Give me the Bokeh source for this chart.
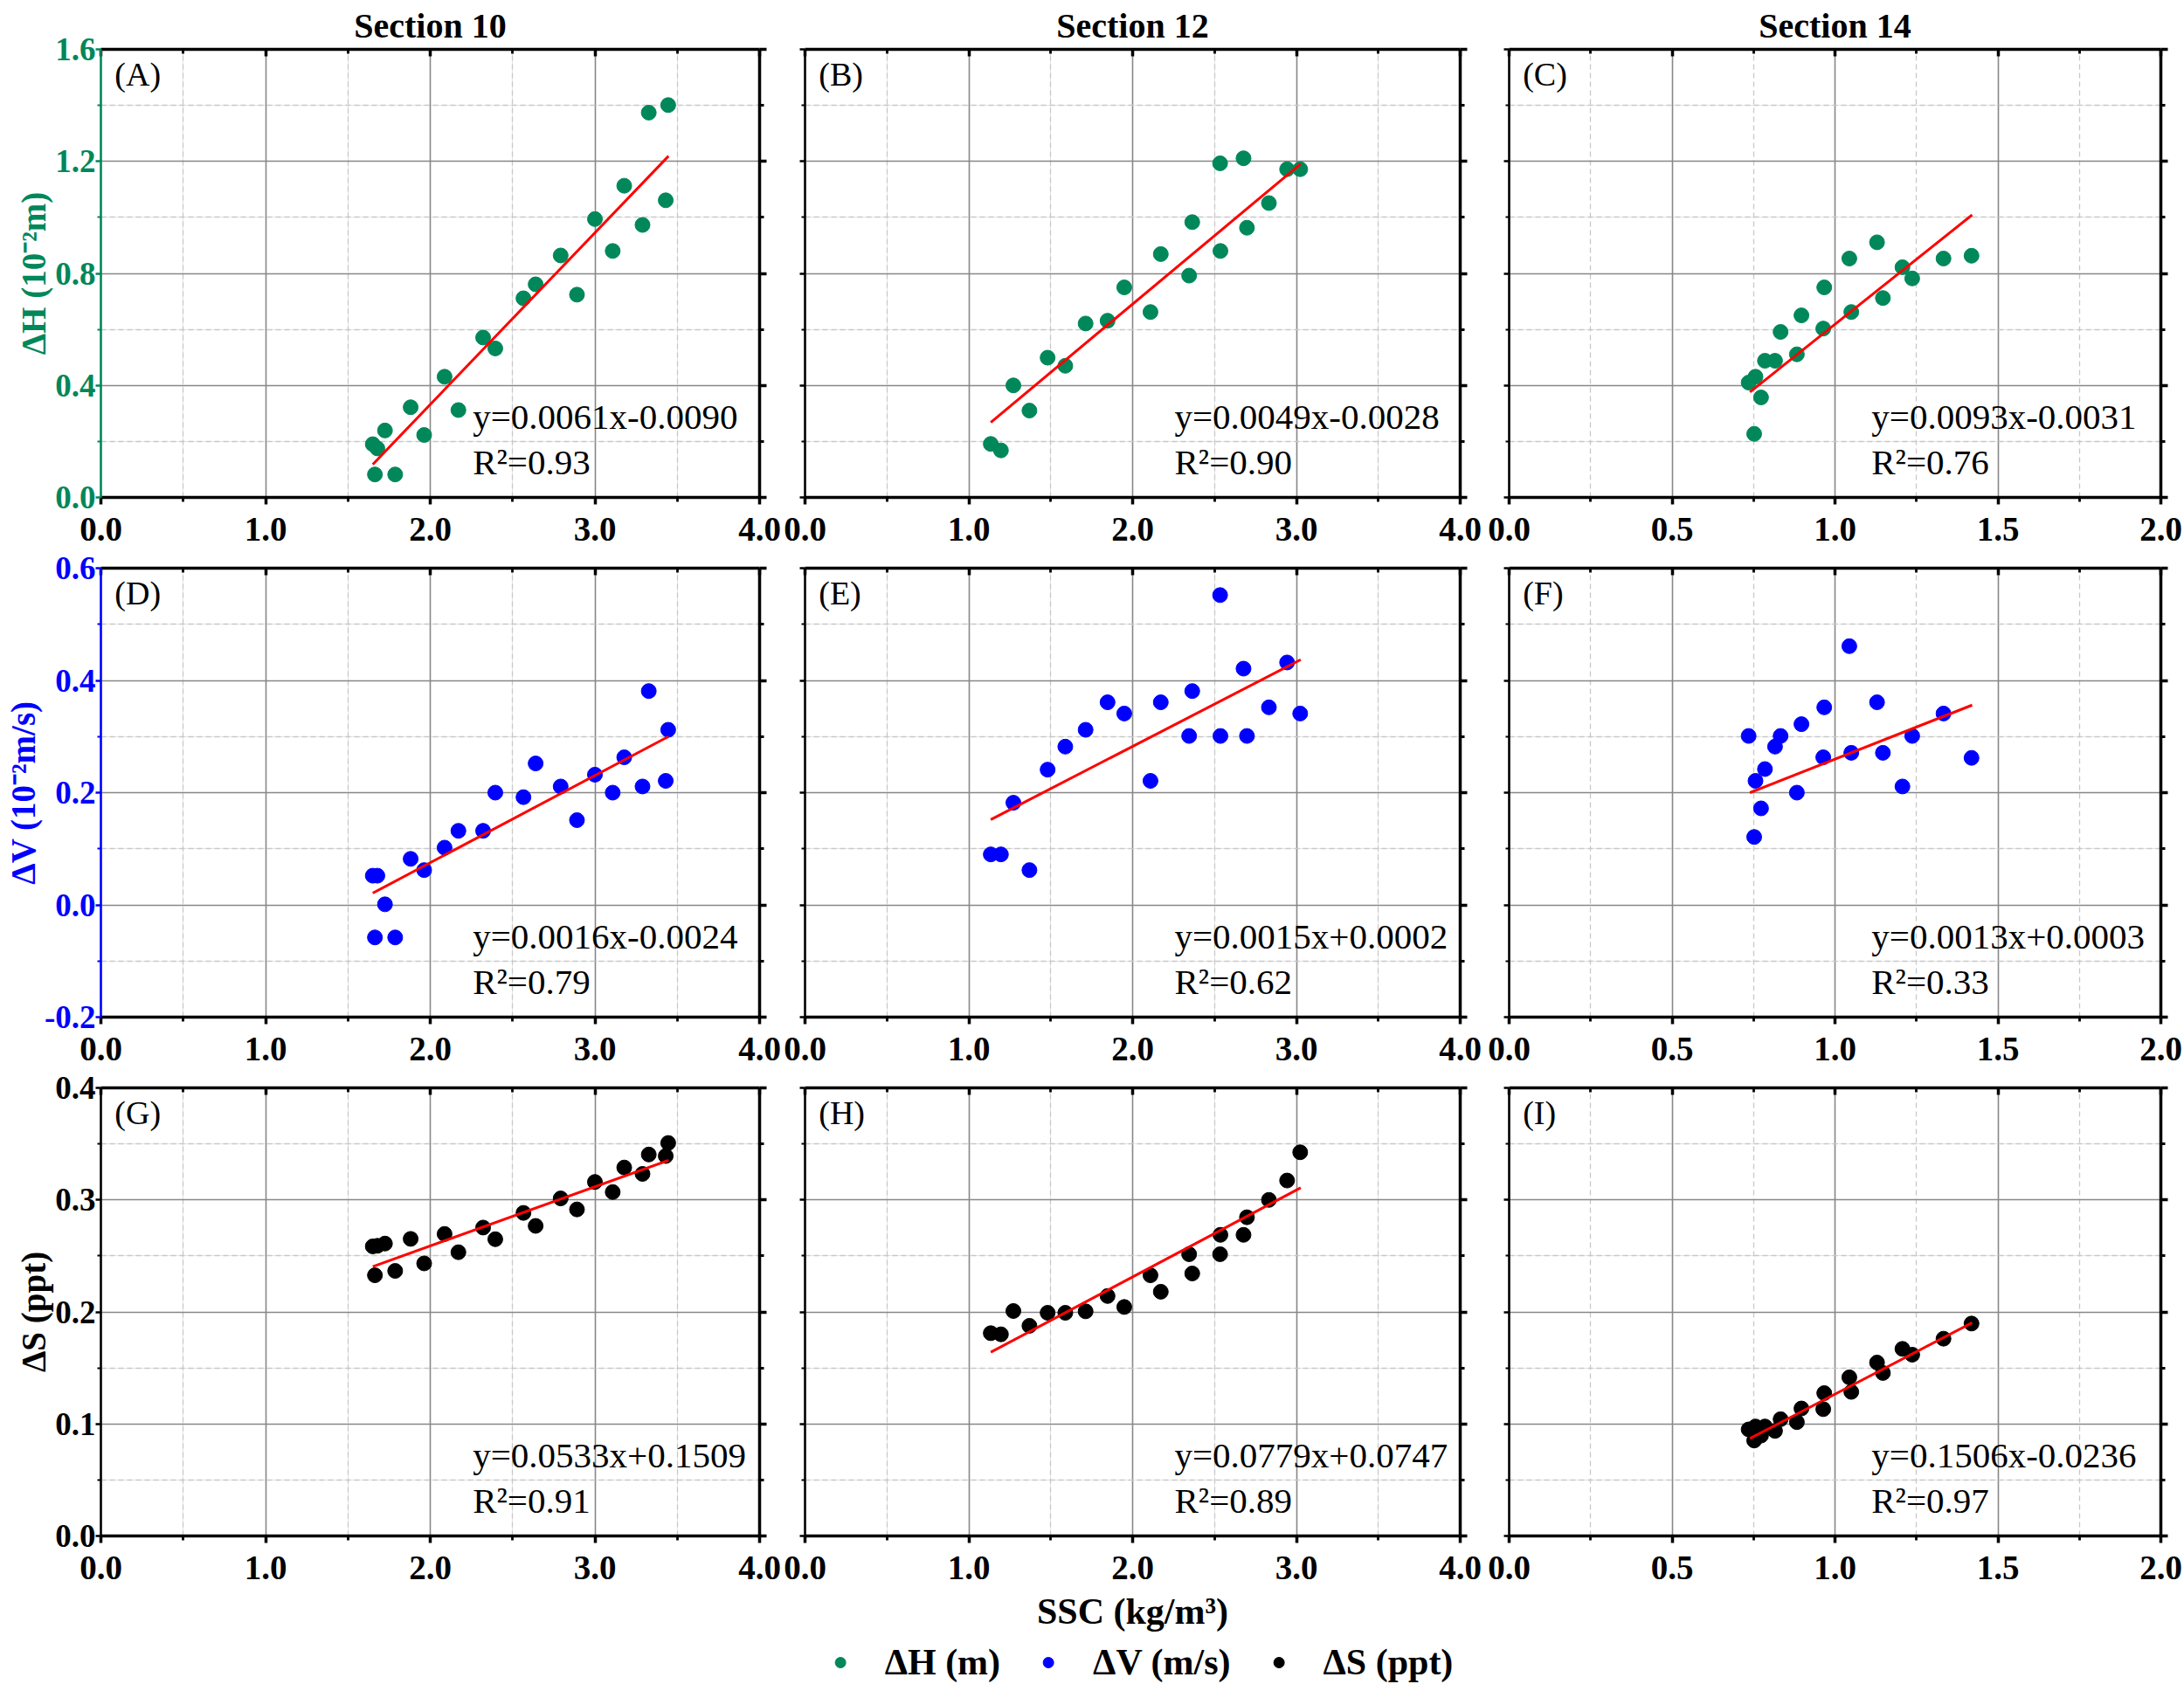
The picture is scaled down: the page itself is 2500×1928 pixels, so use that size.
from bokeh.plotting import figure
from bokeh.models import (LinearAxis, FixedTicker, NumeralTickFormatter, Label,
                          Legend, LegendItem, Range1d, Grid, Spacer)
from bokeh.layouts import column, row
from bokeh.embed import file_html
from bokeh.resources import INLINE

FONT = "Liberation Serif"
GREEN = "#00875a"
BLUE = "#0000ff"
BLACK = "#000000"
RED = "#ff0000"

sections = ["Section 10", "Section 12", "Section 14"]
panel_tags = [["(A)", "(B)", "(C)"], ["(D)", "(E)", "(F)"], ["(G)", "(H)", "(I)"]]
y_labels = ["\u0394H (10\u207b\u00b2m)", "\u0394V (10\u207b\u00b2m/s)", "\u0394S (ppt)"]
legend_labels = ["\u0394H (m)", "\u0394V (m/s)", "\u0394S (ppt)"]
x_label = "SSC (kg/m\u00b3)"

# SSC (x) values, shared by the three rows of each section
ssc_10 = [1.651, 1.679, 1.725, 1.664, 1.787, 1.881, 1.963, 2.087, 2.171, 2.321, 2.395,
          2.566, 2.640, 2.792, 2.891, 3.000, 3.108, 3.178, 3.289, 3.327, 3.430, 3.445]
ssc_12 = [1.134, 1.196, 1.272, 1.370, 1.481, 1.589, 1.713, 1.847, 1.949, 2.109,
          2.172, 2.345, 2.364, 2.536, 2.534, 2.677, 2.698, 2.832, 2.943, 3.023]
ssc_14 = [0.735, 0.756, 0.773, 0.752, 0.785, 0.816, 0.833, 0.883, 0.897, 0.964,
          0.967, 1.050, 1.044, 1.147, 1.129, 1.207, 1.237, 1.333, 1.419]

# delta H (10^-2 m)
dh_10 = [0.190, 0.175, 0.239, 0.082, 0.082, 0.322, 0.223, 0.431, 0.312, 0.571, 0.532,
         0.711, 0.761, 0.864, 0.724, 0.994, 0.880, 1.113, 0.973, 1.374, 1.061, 1.401]
dh_12 = [0.191, 0.168, 0.400, 0.310, 0.499, 0.470, 0.621, 0.631, 0.750, 0.662,
         0.869, 0.792, 0.983, 0.880, 1.193, 1.211, 0.963, 1.051, 1.172, 1.172]
dh_14 = [0.410, 0.431, 0.357, 0.227, 0.488, 0.488, 0.591, 0.511, 0.650, 0.603,
         0.750, 0.662, 0.853, 0.712, 0.911, 0.822, 0.782, 0.853, 0.863]

# delta V (10^-2 m/s)
dv_10 = [0.052, 0.052, 0.001, -0.058, -0.058, 0.082, 0.062, 0.102, 0.132, 0.132, 0.200,
         0.192, 0.252, 0.211, 0.151, 0.232, 0.200, 0.263, 0.211, 0.381, 0.221, 0.312]
dv_12 = [0.090, 0.090, 0.182, 0.062, 0.241, 0.282, 0.312, 0.361, 0.341, 0.221,
         0.361, 0.301, 0.381, 0.301, 0.552, 0.421, 0.301, 0.352, 0.432, 0.341]
dv_14 = [0.301, 0.221, 0.172, 0.121, 0.242, 0.282, 0.301, 0.200, 0.322, 0.263,
         0.352, 0.271, 0.461, 0.271, 0.361, 0.211, 0.301, 0.341, 0.262]

# delta S (ppt)
ds_10 = [0.2585, 0.2590, 0.2610, 0.2327, 0.2366, 0.2652, 0.2433, 0.2696, 0.2533, 0.2753, 0.2649,
         0.2884, 0.2768, 0.3013, 0.2915, 0.3160, 0.3070, 0.3289, 0.3232, 0.3405, 0.3392, 0.3508]
ds_12 = [0.1810, 0.1800, 0.2008, 0.1876, 0.1992, 0.1992, 0.2005, 0.2142, 0.2044, 0.2327,
         0.2180, 0.2515, 0.2343, 0.2688, 0.2515, 0.2688, 0.2845, 0.3000, 0.3173, 0.3425]
ds_14 = [0.0951, 0.0977, 0.0896, 0.0852, 0.0977, 0.0938, 0.1042, 0.1016, 0.1138, 0.1132,
         0.1275, 0.1286, 0.1416, 0.1455, 0.1548, 0.1670, 0.1618, 0.1761, 0.1896]

# regression line end points
fit_x_10 = [1.651, 3.447]
fit_x_12 = [1.134, 3.026]
fit_x_14 = [0.739, 1.421]
fit_dh_10 = [0.118, 1.219]
fit_dh_12 = [0.268, 1.191]
fit_dh_14 = [0.376, 1.009]
fit_dv_10 = [0.021, 0.300]
fit_dv_12 = [0.152, 0.437]
fit_dv_14 = [0.200, 0.356]
fit_ds_10 = [0.2405, 0.3353]
fit_ds_12 = [0.1640, 0.3108]
fit_ds_14 = [0.0870, 0.1904]

equations = [["y=0.0061x-0.0090", "y=0.0049x-0.0028", "y=0.0093x-0.0031"],
             ["y=0.0016x-0.0024", "y=0.0015x+0.0002", "y=0.0013x+0.0003"],
             ["y=0.0533x+0.1509", "y=0.0779x+0.0747", "y=0.1506x-0.0236"]]
r_squared = [["R\u00b2=0.93", "R\u00b2=0.90", "R\u00b2=0.76"],
             ["R\u00b2=0.79", "R\u00b2=0.62", "R\u00b2=0.33"],
             ["R\u00b2=0.91", "R\u00b2=0.89", "R\u00b2=0.97"]]

# axes limits and ticks
x_lims = [(0, 4), (0, 4), (0, 2)]
x_major = [[0, 1, 2, 3, 4], [0, 1, 2, 3, 4], [0, 0.5, 1.0, 1.5, 2.0]]
x_minor = [[0.5, 1.5, 2.5, 3.5], [0.5, 1.5, 2.5, 3.5], [0.25, 0.75, 1.25, 1.75]]
y_lims = [(0, 1.6), (-0.2, 0.6), (0, 0.4)]
y_major = [[0, 0.4, 0.8, 1.2, 1.6], [-0.2, 0, 0.2, 0.4, 0.6], [0, 0.1, 0.2, 0.3, 0.4]]
y_minor = [[0.2, 0.6, 1.0, 1.4], [-0.1, 0.1, 0.3, 0.5], [0.05, 0.15, 0.25, 0.35]]
row_colors = [GREEN, BLUE, BLACK]

# layout (pixels)
frame_w = [754, 750, 746]
frame_h = [513, 514, 513]
border_l = [115, 26, 30]
border_r = [26, 26, 26]
border_t = [56, 21, 21]
border_b = [60, 60, 60]


def style_axis(ax, color, lw, side, labels=True):
    ax.axis_line_color = color
    ax.axis_line_width = lw
    ax.major_tick_line_color = color
    ax.minor_tick_line_color = color
    ax.major_tick_line_width = lw
    ax.minor_tick_line_width = lw * 0.8
    if side == "above":
        ax.major_tick_in, ax.major_tick_out = 8, 0
        ax.minor_tick_in, ax.minor_tick_out = 5, 0
    elif side == "left":
        ax.major_tick_in, ax.major_tick_out = 0, 6
        ax.minor_tick_in, ax.minor_tick_out = 0, 4
    else:
        ax.major_tick_in, ax.major_tick_out = 0, 8
        ax.minor_tick_in, ax.minor_tick_out = 0, 5
    if labels:
        ax.major_label_text_font = FONT
        ax.major_label_text_font_style = "bold"
        ax.major_label_text_font_size = "39px" if side == "below" else "37px"
        ax.major_label_text_color = color
        ax.major_label_standoff = 15 if side == "below" else 0
    else:
        ax.major_label_text_font_size = "1px"
        ax.major_label_text_color = None
        ax.major_label_standoff = 0


def panel(r, c, xs, ys, fx, fy):
    xlo, xhi = x_lims[c]
    ylo, yhi = y_lims[r]
    p = figure(frame_width=frame_w[c], frame_height=frame_h[r],
               x_range=Range1d(xlo, xhi), y_range=Range1d(ylo, yhi),
               x_axis_location=None, y_axis_location=None,
               min_border_left=border_l[c], min_border_right=border_r[c],
               min_border_top=border_t[r], min_border_bottom=border_b[r],
               output_backend="svg", toolbar_location=None)
    p.outline_line_color = None
    p.background_fill_color = "white"

    xt = FixedTicker(ticks=x_major[c], minor_ticks=x_minor[c])
    yt = FixedTicker(ticks=y_major[r], minor_ticks=y_minor[r])
    fmt = NumeralTickFormatter(format="0.0")

    for dim, tk in ((0, xt), (1, yt)):
        g = Grid(dimension=dim, ticker=tk)
        g.grid_line_color = "#878787"
        g.grid_line_width = 1.6
        g.minor_grid_line_color = "#c8c8c8"
        g.minor_grid_line_width = 1.3
        g.minor_grid_line_dash = "6 4"
        p.add_layout(g)

    bottom = LinearAxis(ticker=xt, formatter=fmt)
    style_axis(bottom, BLACK, 3.5, "below")
    p.add_layout(bottom, "below")

    left = LinearAxis(ticker=yt, formatter=fmt)
    if c == 0:
        style_axis(left, row_colors[r], 2.6, "left")
        left.axis_label = y_labels[r]
        left.axis_label_text_font = FONT
        left.axis_label_text_font_style = "bold"
        left.axis_label_text_font_size = "39px"
        left.axis_label_text_color = row_colors[r]
        left.axis_label_standoff = 0
    else:
        style_axis(left, BLACK, 2.6, "left", labels=False)
    p.add_layout(left, "left")

    top = LinearAxis(ticker=xt, formatter=fmt)
    style_axis(top, BLACK, 3.5, "above", labels=False)
    p.add_layout(top, "above")

    right = LinearAxis(ticker=yt, formatter=fmt)
    style_axis(right, BLACK, 3.5, "right", labels=False)
    p.add_layout(right, "right")

    p.scatter(xs, ys, size=17, color=row_colors[r])
    p.line(fx, fy, color=RED, line_width=3)

    def fx_(f):
        return xlo + f * (xhi - xlo)

    def fy_(f):
        return ylo + f * (yhi - ylo)

    p.add_layout(Label(x=fx_(0.021), y=fy_(0.944), text=panel_tags[r][c],
                       text_font=FONT, text_font_size="38px", text_color=BLACK,
                       text_baseline="middle"))
    eq_left = [0.5645, 0.564, 0.556][c]
    p.add_layout(Label(x=fx_(eq_left), y=fy_(0.180), text=equations[r][c],
                       text_font=FONT, text_font_size="41px", text_color=BLACK,
                       text_baseline="middle"))
    p.add_layout(Label(x=fx_(eq_left), y=fy_(0.078), text=r_squared[r][c],
                       text_font=FONT, text_font_size="41px", text_color=BLACK,
                       text_baseline="middle"))

    if r == 0:
        p.title.text = sections[c]
        p.title.align = "center"
        p.title.text_font = FONT
        p.title.text_font_style = "bold"
        p.title.text_font_size = "40px"
        p.title.text_color = BLACK
        p.title.standoff = 9
    return p


ssc = [ssc_10, ssc_12, ssc_14]
fit_x = [fit_x_10, fit_x_12, fit_x_14]
values = [[dh_10, dh_12, dh_14], [dv_10, dv_12, dv_14], [ds_10, ds_12, ds_14]]
fits = [[fit_dh_10, fit_dh_12, fit_dh_14], [fit_dv_10, fit_dv_12, fit_dv_14],
        [fit_ds_10, fit_ds_12, fit_ds_14]]

rows = []
for r in range(3):
    figs = []
    for c in range(3):
        figs.append(panel(r, c, ssc[c], values[r][c], fit_x[c], fits[r][c]))
    rows.append(figs)

# x label under the middle bottom panel
pm = rows[2][1]
pm.min_border_bottom = 120
xax = pm.below[0]
xax.axis_label = x_label
xax.axis_label_text_font = FONT
xax.axis_label_text_font_style = "bold"
xax.axis_label_text_font_size = "42px"
xax.axis_label_text_color = BLACK
xax.axis_label_standoff = 11

# legend on its own strip below the grid
pl = figure(width=900, height=50, x_range=Range1d(0, 1), y_range=Range1d(0, 1),
            x_axis_location=None, y_axis_location=None, min_border=0,
            output_backend="svg", toolbar_location=None)
pl.outline_line_color = None
pl.xgrid.visible = False
pl.ygrid.visible = False
items = []
for lab, col, ser_x, ser_y in zip(legend_labels, row_colors, ssc, [dh_10, dv_10, ds_10]):
    rr = pl.scatter(x=ser_x[:1], y=ser_y[:1], size=17, color=col, visible=False)
    items.append(LegendItem(label=lab, renderers=[rr]))
legend = Legend(items=items, orientation="horizontal", location="center",
                label_text_font=FONT, label_text_font_style="bold",
                label_text_font_size="42px", label_text_color=BLACK,
                glyph_width=30, glyph_height=30,
                label_standoff=36, spacing=40, border_line_color=None,
                background_fill_alpha=0, inactive_fill_alpha=0,
                margin=0, padding=0)
pl.add_layout(legend)

layout = column(*[row(*figs) for figs in rows], row(Spacer(width=855, height=50), pl))
open("out.html", "w").write(file_html(layout, INLINE))
